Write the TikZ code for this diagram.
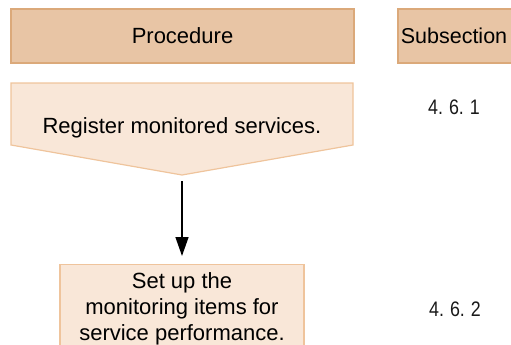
\documentclass[tikz,border=0pt]{standalone}
\usepackage{fontspec}
\setmainfont{Liberation Sans}
\usetikzlibrary{arrows.meta}
\definecolor{hdrfill}{HTML}{E8C5A5}
\definecolor{hdrline}{HTML}{DBA97A}
\definecolor{stepfill}{HTML}{F9E7D8}
\definecolor{stepline}{HTML}{EFC49C}
\tikzset{
  hdrbox/.style={draw=hdrline, fill=hdrfill, line width=1.2pt},
  stepbox/.style={draw=stepline, fill=stepfill, line width=1.2pt},
  txt/.style={font=\fontsize{22}{26}\selectfont, text=black, inner sep=0pt},
  num/.style={font=\fontsize{21}{24}\selectfont, text=black!90, inner sep=0pt},
  flow/.style={line width=1.4pt, -{Triangle[length=19pt,width=13pt]}}
}
\newcommand{\subnum}[1]{\scalebox{0.85}[1]{#1}}
\begin{document}
\begin{tikzpicture}[x=1pt,y=-1pt]
\useasboundingbox (0,0) rectangle (511,345);
\clip (0,0) rectangle (511,345);
% headers
\node[hdrbox, txt, minimum width=343pt, minimum height=54pt] (proc) at (182.5,36) {Procedure};
\draw[hdrbox] (398,9) rectangle (530,63);
\node[txt, font=\fontsize{21.5}{26}\selectfont] (subsec) at (454,36) {Subsection};
% step 1 pentagon
\draw[stepbox] (11,83) -- (353,83) -- (353,145) -- (182,175) -- (11,145) -- cycle;
\node[txt] (reg) at (182,128) {Register monitored services.};
\coordinate (tip) at (182,181);
% step 2 box
\node[stepbox, minimum width=244pt, minimum height=90pt, anchor=north] (setup) at (182,264) {};
\node[txt, align=center] (setuptxt) at (182,309) {Set up the\\monitoring items for\\service performance.};
\draw[flow, shorten >=8pt] (tip) -- (setup.north);
% subsection numbers
\node[num] (n1) at (454,107) {\subnum{4.\,\,6.\,\,1}};
\node[num] (n2) at (455,309) {\subnum{4.\,\,6.\,\,2}};
\end{tikzpicture}
\end{document}
